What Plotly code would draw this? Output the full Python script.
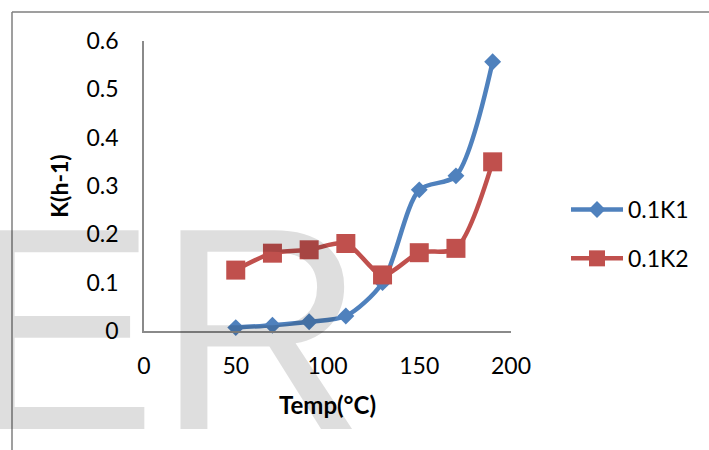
import plotly.graph_objects as go

# Rate constant versus temperature for the two 0.1 samples
temps = [50, 70, 90, 110, 130, 150, 170, 190]
k1 = [0.007, 0.012, 0.019, 0.031, 0.100, 0.292, 0.321, 0.557]
k2 = [0.126, 0.161, 0.168, 0.181, 0.116, 0.162, 0.171, 0.350]
series_names = ["0.1K1", "0.1K2"]

x_ticks = [0, 50, 100, 150, 200]
y_ticks = [0, 0.1, 0.2, 0.3, 0.4, 0.5, 0.6]

BLUE = "#4F81BD"
RED = "#C0504D"
AXIS_GREY = "#8a8a8a"
FONT = "Lato, 'Open Sans', sans-serif"
FS = 23

W, H = 709, 450
L, R, T, B = 144, 198, 41, 119
PW, PH = W - L - R, H - T - B


def px_x(p):
    return (p - L) / PW


def px_y(p):
    return (H - B - p) / PH


fig = go.Figure()
fig.add_trace(go.Scatter(
    x=temps, y=k1, name=series_names[0], legendgroup="a",
    mode="lines+markers", line=dict(color=BLUE, width=4.5, shape="spline", smoothing=0.8),
    marker=dict(symbol="diamond", size=13, color=BLUE), cliponaxis=False,
))
fig.add_trace(go.Scatter(
    x=temps, y=k2, name=series_names[1], legendgroup="b",
    mode="lines+markers", line=dict(color=RED, width=4.5, shape="spline", smoothing=0.8),
    marker=dict(symbol="square", size=19, color=RED), cliponaxis=False,
))

# frame lines along the top and left of the page
fig.add_shape(type="line", xref="paper", yref="paper",
              x0=px_x(12), x1=px_x(W + 5), y0=px_y(12), y1=px_y(12),
              line=dict(color="#7f7f7f", width=1.5))
fig.add_shape(type="line", xref="paper", yref="paper",
              x0=px_x(12), x1=px_x(12), y0=px_y(12), y1=px_y(H + 5),
              line=dict(color="#7f7f7f", width=1.5))

# large translucent lettering across the lower part of the page
fig.add_annotation(
    text="ER", xref="paper", yref="paper",
    x=px_x(164.5), y=px_y(328), xanchor="center", yanchor="middle",
    showarrow=False, borderpad=0,
    font=dict(family="Liberation Sans, Arial, sans-serif", size=289, color="rgba(0,0,0,0.13)"),
)

fig.update_layout(
    width=W, height=H,
    margin=dict(l=L, r=R, t=T, b=B, autoexpand=False),
    paper_bgcolor="white", plot_bgcolor="white",
    font=dict(family=FONT, size=FS, color="black"),
    showlegend=True,
    legend=dict(
        x=px_x(566), y=px_y(188), xanchor="left", yanchor="top",
        bgcolor="rgba(0,0,0,0)", borderwidth=0,
        font=dict(family=FONT, size=FS, color="black"),
        tracegroupgap=16, itemwidth=52,
    ),
    xaxis=dict(
        range=[0, 200], tickvals=x_ticks, ticks="", showgrid=False, zeroline=False,
        showline=True, linecolor=AXIS_GREY, linewidth=1.5,
        ticklabelstandoff=14,
        title=dict(text="<b>Temp(°C)</b>", font=dict(family=FONT, size=24), standoff=19),
    ),
    yaxis=dict(
        range=[0, 0.6], tickvals=y_ticks, ticks="", showgrid=False, zeroline=False,
        showline=True, linecolor=AXIS_GREY, linewidth=1.5,
        ticklabelstandoff=19,
        title=dict(text="<b>K(h-1)</b>", font=dict(family=FONT, size=FS), standoff=11),
    ),
)

fig.write_html("out.html")
